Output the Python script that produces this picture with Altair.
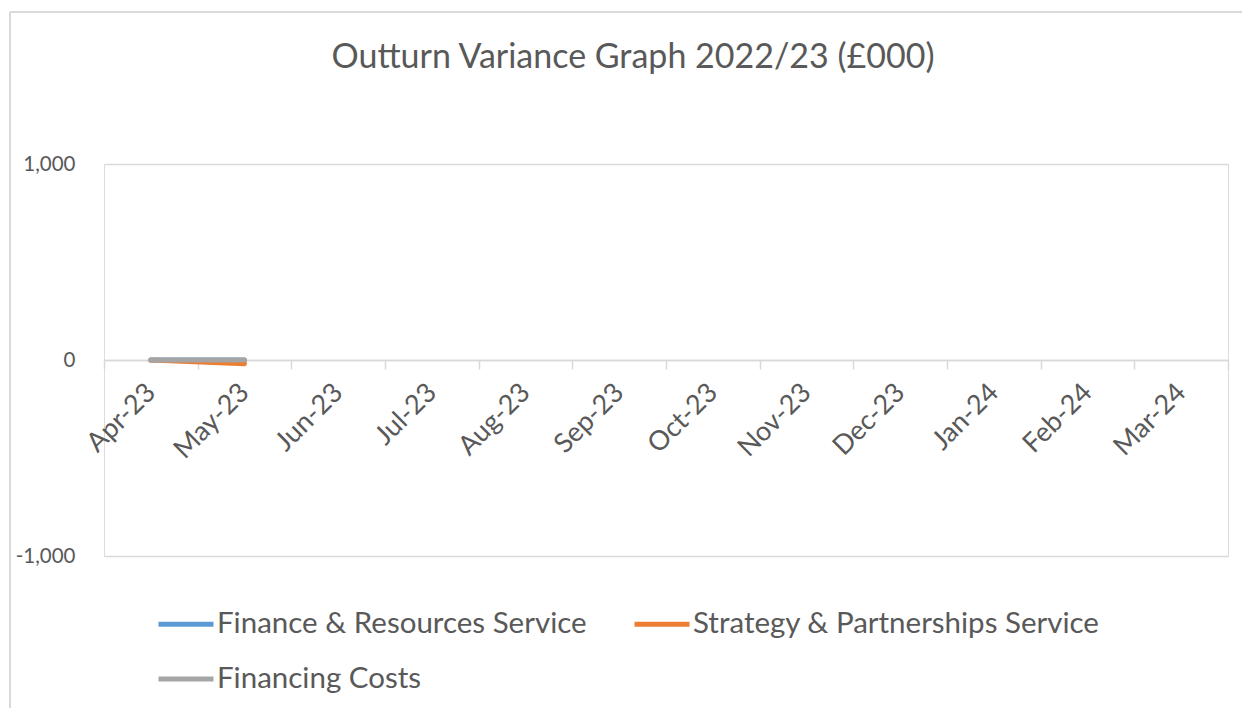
import altair as alt
import pandas as pd

months = ["Apr-23", "May-23", "Jun-23", "Jul-23", "Aug-23", "Sep-23",
          "Oct-23", "Nov-23", "Dec-23", "Jan-24", "Feb-24", "Mar-24"]
series = ["Finance & Resources Service", "Strategy & Partnerships Service", "Financing Costs"]
colors = ["#5B9BD5", "#ED7D31", "#A5A5A5"]
finance_resources = [0, 0, None, None, None, None, None, None, None, None, None, None]
strategy_partnerships = [0, -19, None, None, None, None, None, None, None, None, None, None]
financing_costs = [0, 0, None, None, None, None, None, None, None, None, None, None]
y_ticks = [-1000, 0, 1000]
title_text = "Outturn Variance Graph 2022/23 (£000)"

rows = []
for name, vals in zip(series, [finance_resources, strategy_partnerships, financing_costs]):
    for m, v in zip(months, vals):
        if v is not None:
            rows.append({"Month": m, "Series": name, "Value": v})
df = pd.DataFrame(rows)

FONT = "Lato"
TXT = "#595959"
GRID = "#D9D9D9"
W, H = 1124, 392

color_scale = alt.Scale(domain=series, range=colors)

lines = alt.Chart(df).mark_line(strokeWidth=5, strokeCap="round", strokeJoin="round").encode(
    x=alt.X("Month:N", sort=months, scale=alt.Scale(domain=months, paddingInner=0, paddingOuter=0),
            title=None,
            axis=alt.Axis(labelAngle=-45, labelAlign="right", labelBaseline="middle",
                          labelFontSize=27, labelFont=FONT, labelColor=TXT,
                          labelPadding=19, tickSize=9, tickColor=GRID, tickWidth=1.5,
                          tickBand="extent", domainColor=GRID, domainWidth=1.5,
                          offset=-196, grid=False, labelOverlap=False)),
    y=alt.Y("Value:Q", scale=alt.Scale(domain=[-1000, 1000], nice=False, zero=False),
            title=None,
            axis=alt.Axis(values=y_ticks,
                          labelExpr="datum.value < 0 ? '-' + format(-datum.value, ',.0f') : format(datum.value, ',.0f')",
                          labelFontSize=20.5, labelFont=FONT,
                          labelColor=TXT, labelPadding=29, ticks=False, domain=False,
                          grid=True, gridColor=GRID, gridWidth=1.5)),
    color=alt.Color("Series:N", scale=color_scale,
                    legend=alt.Legend(title=None, orient="none", legendX=52, legendY=430,
                                      direction="horizontal", values=series,
                                      columns=2, symbolType="stroke", symbolSize=3025,
                                      symbolStrokeWidth=5, labelFontSize=29.5, labelFont=FONT,
                                      labelColor=TXT, labelOffset=1, columnPadding=37,
                                      rowPadding=10, gridAlign="each", labelLimit=700)),
)

one = pd.DataFrame({"t": [title_text]})
border_top = alt.Chart(one).mark_rule(color=GRID, strokeWidth=2).encode(
    x=alt.value(-94), x2=alt.value(1140), y=alt.value(-152))
border_left = alt.Chart(one).mark_rule(color=GRID, strokeWidth=2).encode(
    x=alt.value(-94), y=alt.value(-152), y2=alt.value(546))
title = alt.Chart(one).mark_text(fontSize=34, font=FONT, color=TXT, align="center",
                                 baseline="middle").encode(
    text="t:N", x=alt.value(529), y=alt.value(-106))

chart = alt.layer(border_top, border_left, title, lines).properties(
    width=W, height=H,
    autosize=alt.AutoSizeParams(type="none"),
    padding={"left": 104, "top": 164, "right": 14, "bottom": 152},
).configure_view(stroke=None).configure(background="white")

chart.save("out.html", embed_options={"renderer": "svg", "actions": False})
